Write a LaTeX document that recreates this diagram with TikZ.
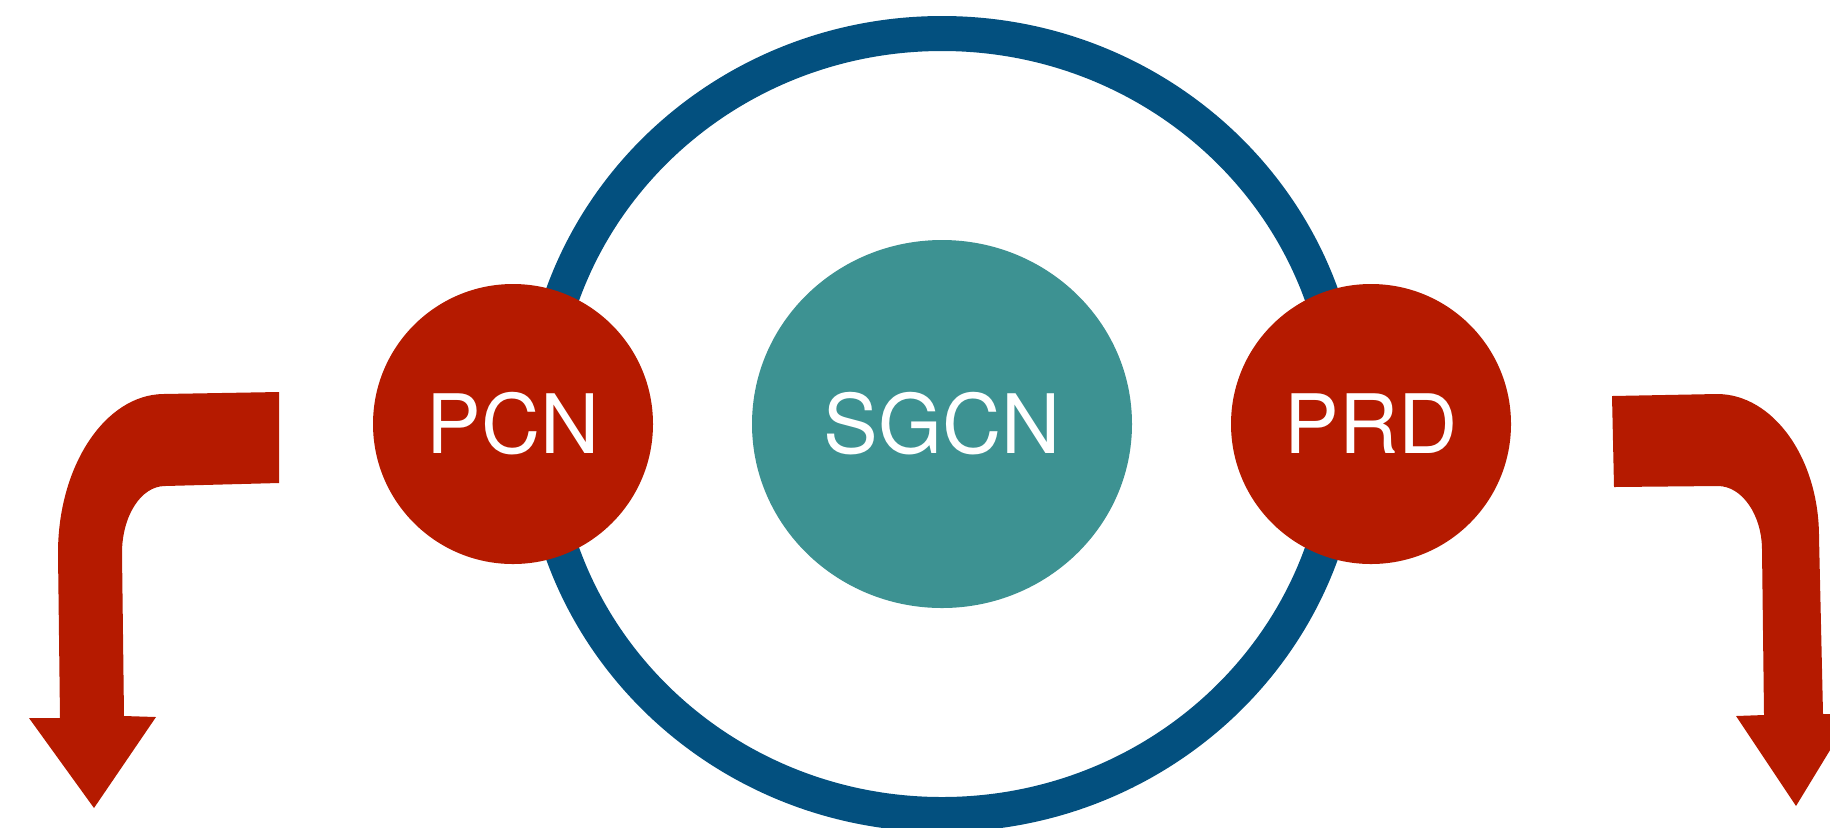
\documentclass[tikz,border=0pt]{standalone}
\usepackage{fontspec}
\setmainfont{TeX Gyre Heros}
\usetikzlibrary{shapes.geometric}
\definecolor{ringblue}{HTML}{03507F}
\definecolor{nodered}{HTML}{B51A00}
\definecolor{coreteal}{HTML}{3D9292}
\tikzset{
  ringstyle/.style={ellipse, draw=ringblue, line width=17.5pt, fill=none, inner sep=0pt,
    minimum width=402pt, minimum height=390.5pt},
  corestyle/.style={ellipse, fill=coreteal, inner sep=0pt, minimum width=190pt, minimum height=184pt,
    text=white, font=\fontsize{41pt}{41pt}\selectfont},
  redcircle/.style={circle, fill=nodered, inner sep=0pt, minimum size=140pt,
    text=white, font=\fontsize{41pt}{41pt}\selectfont},
  bigarrow/.style={fill=nodered, draw=none}
}
\begin{document}
\begin{tikzpicture}[x=0.5pt, y=-0.5pt]
\useasboundingbox (0,0) rectangle (1830,827);
\clip (0,0) rectangle (1830,827);
\node[ringstyle] (ring) at (942,424) {};
\node[corestyle] (sgcn) at (942,424) {SGCN};
\node[redcircle] (pcn) at (513,424) {PCN};
\node[redcircle] (prd) at (1371,424) {PRD};
% left arrow
\fill[bigarrow] (279,392) -- (163,394) .. controls (105,395) and (58,466) .. (58,553)
  -- (60,718) -- (29,718) -- (94,808) -- (156,717) -- (124,716) -- (122,553)
  .. controls (122,516) and (141,486) .. (165,486) -- (279,483) -- cycle;
% right arrow
\fill[bigarrow] (1612,396) -- (1717,394) .. controls (1773,394) and (1819,458) .. (1819,537)
  -- (1823,714) -- (1852,714) -- (1796,806) -- (1736,716) -- (1764,715) -- (1762,550)
  .. controls (1762,515) and (1742,486) .. (1718,486) -- (1614,487) -- cycle;
\end{tikzpicture}
\end{document}
